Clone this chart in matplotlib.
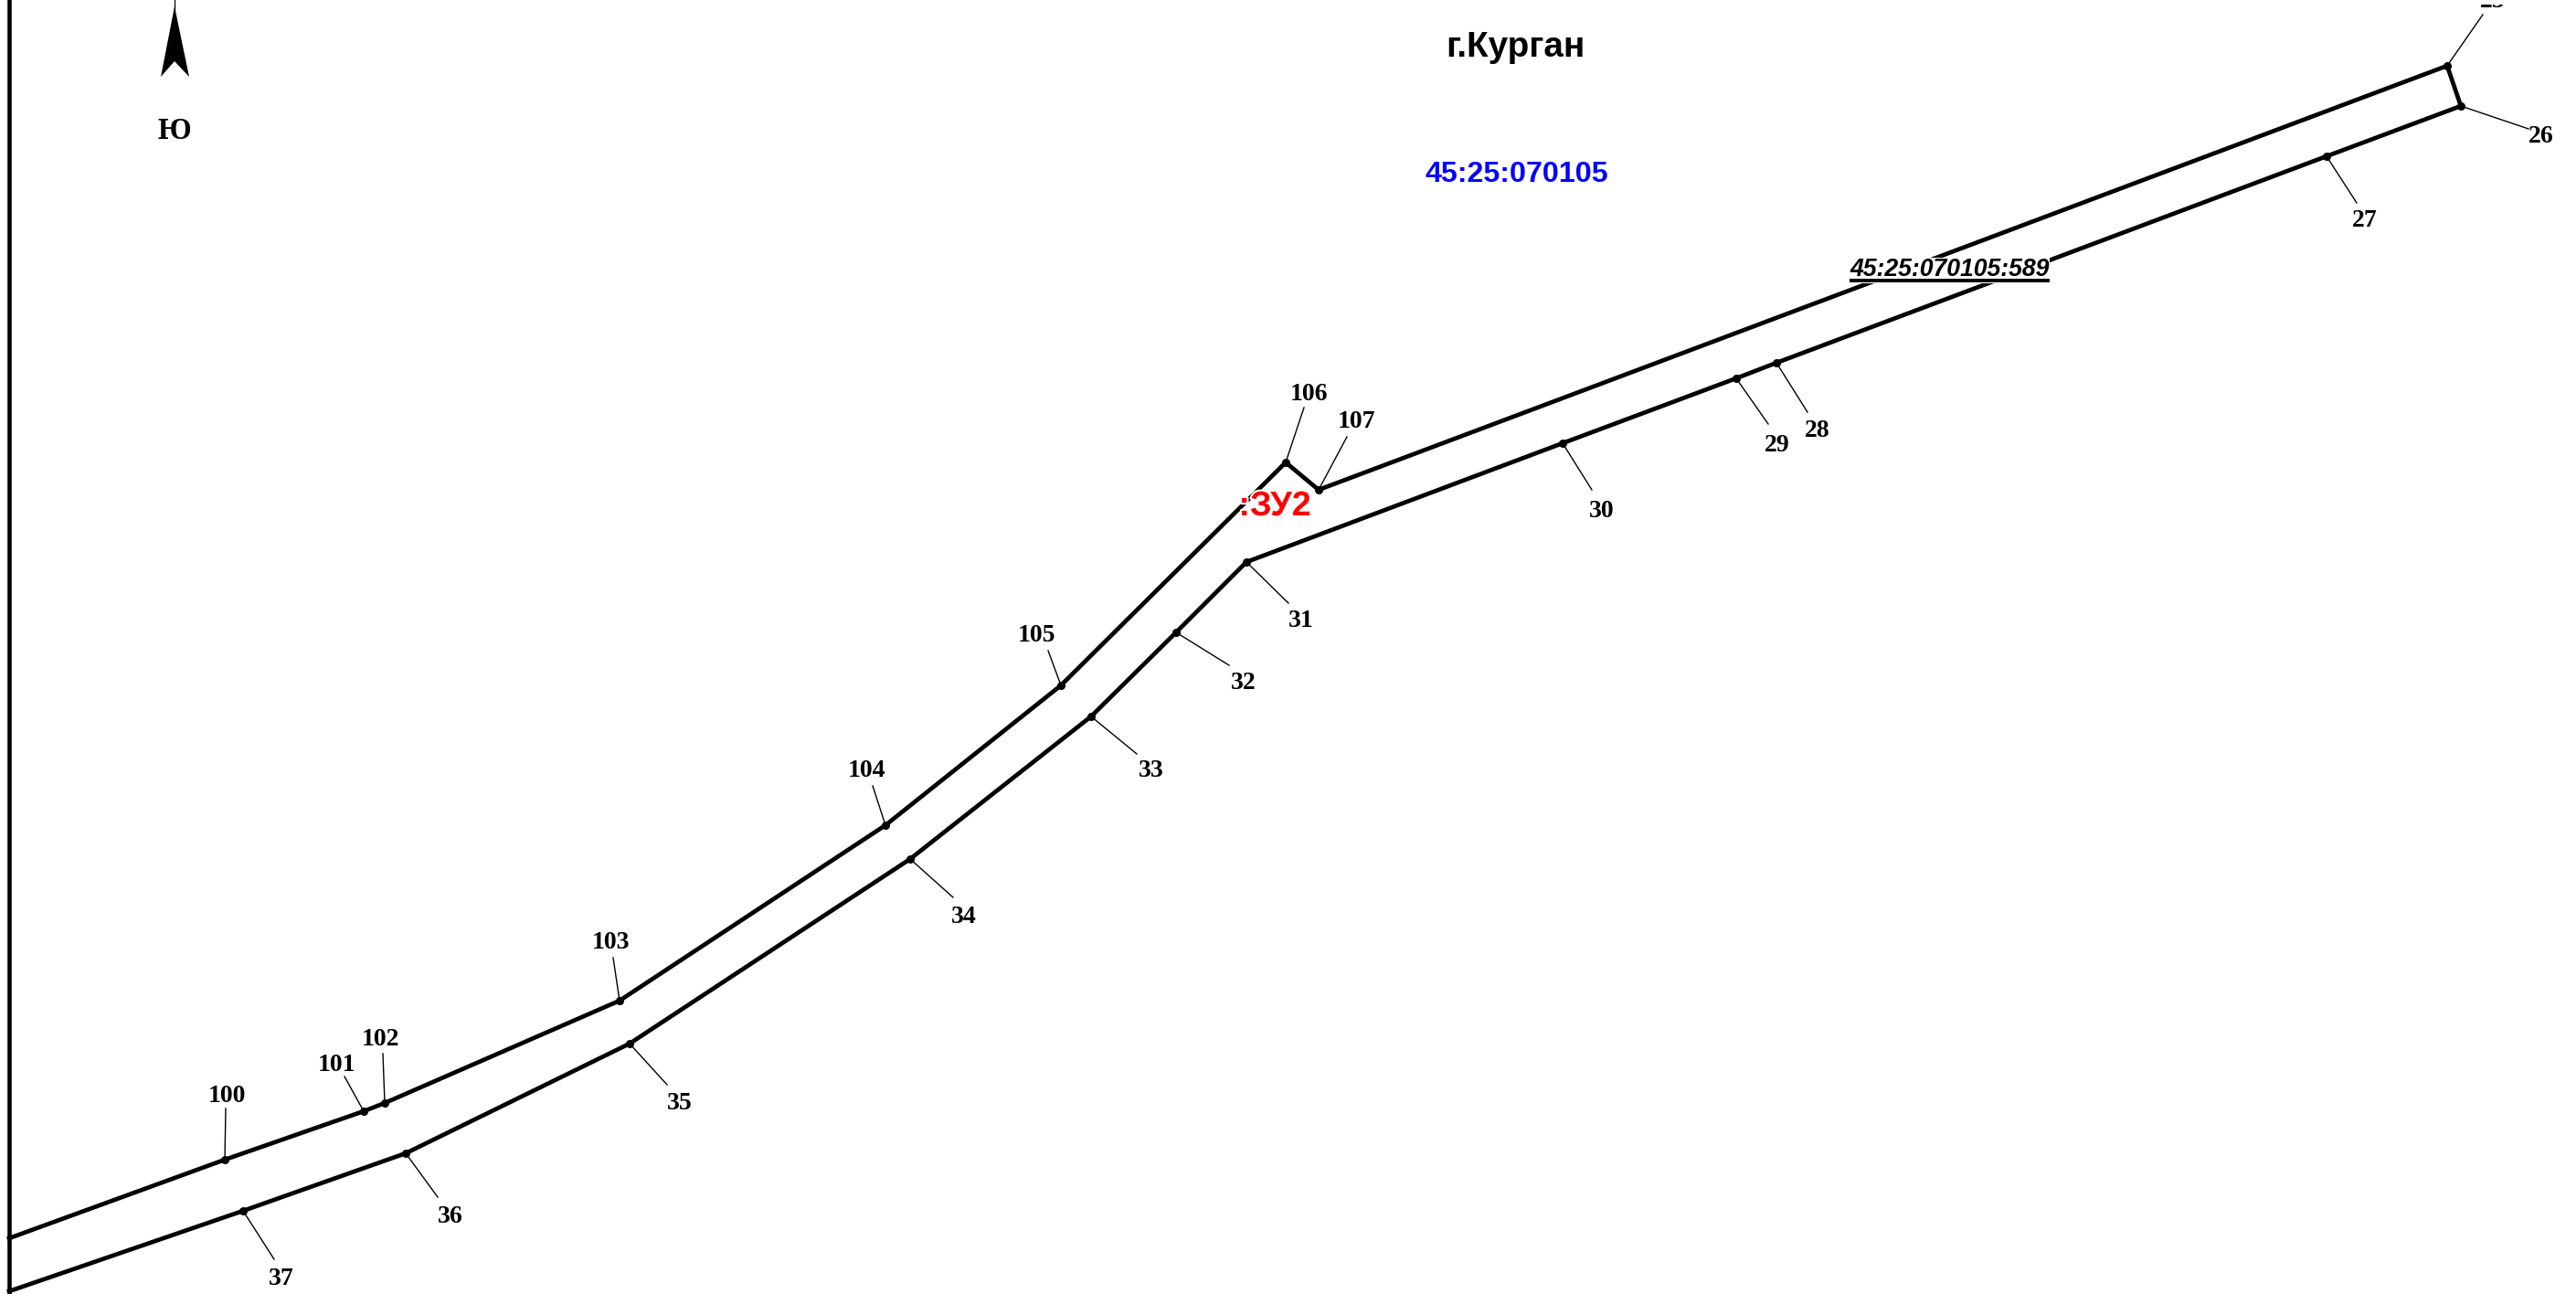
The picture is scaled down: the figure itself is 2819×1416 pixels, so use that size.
import matplotlib
matplotlib.use("Agg")
import matplotlib.pyplot as plt
import matplotlib.patheffects as pe
from matplotlib.patches import Polygon, Rectangle

WIDTH = 2819
HEIGHT = 1416

# boundary points in drawing order, picture coordinates
point_ids = ["100", "101", "102", "103", "104", "105", "106", "107", "25",
             "26", "27", "28", "29", "30", "31", "32", "33", "34", "35", "36", "37"]
point_x = [246, 398, 421, 678, 969, 1161, 1407, 1443, 2678,
           2693, 2546, 1944, 1900, 1710, 1364, 1287, 1194, 996, 689, 444, 266]
point_y = [1269, 1216, 1207, 1095, 903, 750, 506, 536, 72,
           116, 171, 397, 414, 485, 615, 692, 784, 940, 1142, 1262, 1325]

# leader line ends next to the labels
leader_x = [247, 377, 419, 671, 955, 1147, 1427, 1474, 2717,
            2767, 2579, 1978, 1935, 1742, 1410, 1345, 1244, 1043, 730, 479, 300]
leader_y = [1213, 1178, 1153, 1048, 860, 712, 446, 478, 16,
            141, 222, 451, 464, 536, 660, 728, 825, 982, 1187, 1310, 1378]

# label centres
label_x = [248, 368, 416, 668, 949, 1135, 1432, 1484, 2728,
           2781, 2588, 1989, 1945, 1753, 1424, 1361, 1260, 1055, 744, 493, 308]
label_y = [1199, 1166, 1138, 1031, 843, 695, 431, 462, 1,
           149, 242, 471, 487, 559, 679, 747, 843, 1003, 1207, 1331, 1399]

# where the strip is cut by the sheet frame
frame_x = 10
strip_start = (frame_x, 1355)
strip_end = (frame_x, 1413)

arrow_x = [191, 176, 191, 207]
arrow_y = [7, 84, 67, 84]

plt.rcParams["font.family"] = ["Liberation Sans", "DejaVu Sans"]

fig = plt.figure(figsize=(WIDTH / 100, HEIGHT / 100), dpi=100)
ax = fig.add_axes([0, 0, 1, 1])
ax.set_xlim(0, WIDTH)
ax.set_ylim(HEIGHT, 0)
ax.axis("off")

# Frame

ax.plot([frame_x, frame_x], [0, HEIGHT], color="black", lw=3.3, zorder=3)

# Parcel outline

outline_x = [strip_start[0]] + point_x + [strip_end[0]]
outline_y = [strip_start[1]] + point_y + [strip_end[1]]
ax.plot(outline_x, outline_y, color="black", lw=3.4, solid_joinstyle="miter", zorder=3)
ax.plot(point_x, point_y, "o", color="black", ms=6.5, mew=0, zorder=4)

# Leaders and numbers

for i in range(len(point_ids)):
    ax.plot([point_x[i], leader_x[i]], [point_y[i], leader_y[i]],
            color="black", lw=1.0, zorder=2)
    ax.text(label_x[i], label_y[i], point_ids[i], family="Liberation Serif",
            fontweight="bold", fontsize=20, ha="center", va="center", zorder=5)

# the top of label 25 is cut off in the sheet
ax.add_patch(Rectangle((2700, 0), 60, 5, color="white", lw=0, zorder=6))

# North arrow

ax.plot([191, 191], [0, 12], color="black", lw=0.9)
ax.add_patch(Polygon(list(zip(arrow_x, arrow_y)), closed=True, color="black", lw=0))
ax.text(191, 144, "Ю", family="Liberation Serif", fontweight="bold", fontsize=23.5,
        ha="center", va="center")

# Captions

ax.text(1658, 52, "г.Курган", fontweight="bold", fontsize=27.8,
        ha="center", va="center", color="black")
ax.text(1660, 191, "45:25:070105", fontweight="bold", fontsize=23.2,
        ha="center", va="center", color="#0000ff")

ax.add_patch(Rectangle((2024, 282), 219, 28, color="white", lw=0, zorder=6))
ax.text(2133.5, 302, "45:25:070105:589", fontweight="bold", fontstyle="italic",
        fontsize=19.2, ha="center", va="baseline", color="black", zorder=7)
ax.plot([2024, 2243], [306.5, 306.5], color="black", lw=2.8, zorder=7,
        solid_capstyle="butt")

ax.text(1395, 554, ":ЗУ2", fontweight="bold", fontsize=27.2, ha="center", va="center",
        color="#ff0000", zorder=6,
        path_effects=[pe.withStroke(linewidth=3, foreground="white")])

fig.savefig("out.png", dpi=100, facecolor="white")
plt.close(fig)
